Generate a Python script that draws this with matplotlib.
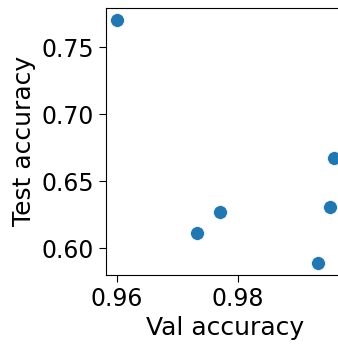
import matplotlib
matplotlib.use("Agg")
import matplotlib.pyplot as plt

# val / test accuracy per run
val_acc = [0.9600, 0.9732, 0.9771, 0.9932, 0.9953, 0.9959]
test_acc = [0.7707, 0.6114, 0.6269, 0.5891, 0.6306, 0.6675]

x_ticks = [0.96, 0.98]
y_ticks = [0.60, 0.65, 0.70, 0.75]


def main():
    fig = plt.figure(figsize=(3.38, 3.46), dpi=100)
    # axes runs past the right edge, like the cropped original
    ax = fig.add_axes([0.3136, 0.2052, 0.707, 0.773])

    ax.scatter(val_acc, test_acc, s=100, color="#1f77b4",
               edgecolor="white", linewidth=0.5, zorder=3)

    ax.set_xticks(x_ticks)
    ax.set_yticks(y_ticks)
    ax.set_xticklabels(["{:.2f}".format(v) for v in x_ticks])
    ax.set_yticklabels(["{:.2f}".format(v) for v in y_ticks])
    ax.tick_params(labelsize=17, length=5)
    ax.spines["right"].set_visible(False)

    ax.set_xlabel("Val accuracy", fontsize=18)
    ax.set_ylabel("Test accuracy", fontsize=18)

    fig.savefig("out.png", dpi=100)


if __name__ == "__main__":
    main()
